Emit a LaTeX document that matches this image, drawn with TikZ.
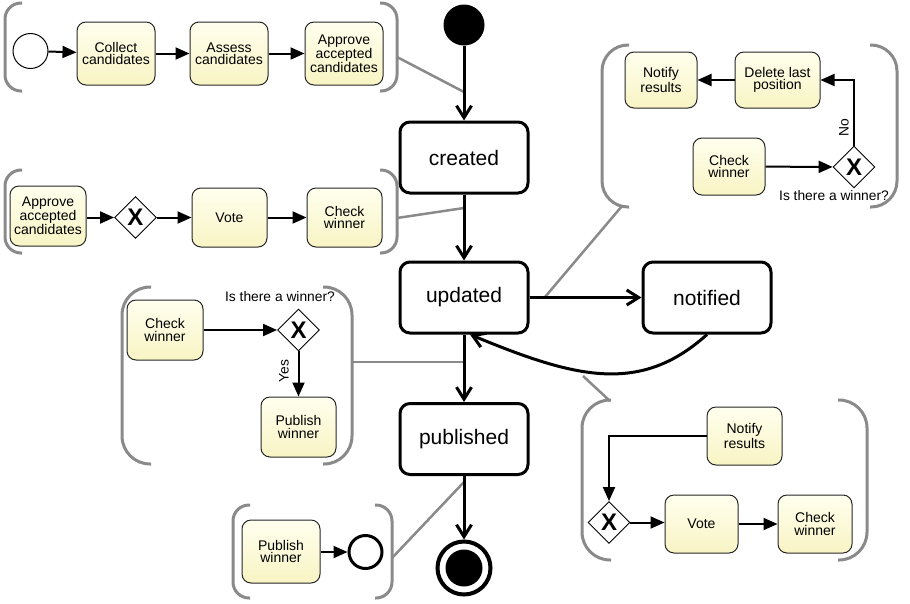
\documentclass[tikz,border=0pt]{standalone}
\usepackage{fontspec}
\setmainfont{Liberation Sans}
\usetikzlibrary{arrows.meta,shapes.geometric,calc}

\definecolor{annogray}{HTML}{8A8A8A}
\definecolor{tasktop}{HTML}{FFFFEE}
\definecolor{taskbot}{HTML}{F8F4C4}

\tikzset{
  state/.style={draw, line width=3pt, rounded corners=10pt, minimum width=128pt,
    minimum height=71pt, fill=white, inner sep=0pt, font=\fontsize{21}{24}\selectfont},
  task/.style={draw=black!85, line width=1pt, rounded corners=9pt, top color=tasktop,
    bottom color=taskbot, minimum width=76pt, minimum height=60pt, inner sep=0pt,
    align=center, font=\fontsize{14}{12.5}\selectfont},
  xgate/.style={diamond, draw, line width=0.9pt, fill=white, minimum size=42pt,
    inner sep=0pt, font=\fontsize{24}{24}\selectfont\bfseries},
  bevent/.style={circle, draw, fill=white, minimum size=35pt, inner sep=0pt},
  small/.style={font=\fontsize{13.8}{13.8}\selectfont, inner sep=0pt},
  trans/.style={line width=3pt, -{Straight Barb[length=12pt,width=15pt]}},
  flow/.style={line width=2pt, -{Triangle[length=14pt,width=12pt]}},
  assoc/.style={draw=annogray, line width=2.5pt},
  brk/.style={draw=annogray, line width=3pt},
}

% pair of rounded brackets: left x, top y, right x, bottom y, corner radius
\newcommand{\bracketpair}[5]{%
  \draw[brk, rounded corners=#5pt] ({#1+#5+1},#2) -- (#1,#2) -- (#1,#4) -- ({#1+#5+1},#4);
  \draw[brk, rounded corners=#5pt] ({#3-#5-1},#2) -- (#3,#2) -- (#3,#4) -- ({#3-#5-1},#4);
}

\begin{document}
\begin{tikzpicture}[x=1pt, y=-1pt]
\useasboundingbox (0,0) rectangle (910,603);

% annotation brackets
\bracketpair{5}{3}{397}{91}{16}
\bracketpair{5}{170}{397}{253}{16}
\bracketpair{602}{45}{897}{207}{26}
\bracketpair{122}{287}{352}{464}{28}
\bracketpair{582}{400}{867}{560}{28}
\bracketpair{233}{505}{392}{598}{16}

% association anchors
\coordinate (a1s) at (397,57);   \coordinate (a1e) at (464,92);
\coordinate (a2s) at (397,218);  \coordinate (a2e) at (464,208);
\coordinate (a3s) at (622,206);  \coordinate (a3e) at (545,297);
\coordinate (a4s) at (352,362);  \coordinate (a4e) at (464,362);
\coordinate (a5s) at (583,376);  \coordinate (a5e) at (610,401);
\coordinate (a6s) at (392,558);  \coordinate (a6e) at (464,482);
\foreach \n in {1,...,6} \draw[assoc] (a\n s) -- (a\n e);

% life cycle states
\node[circle, fill=black, minimum size=41pt, inner sep=0pt] (init) at (464,25) {};
\node[state] (created) at (464,157.5) {created};
\node[state] (updated) at (464,297.5) {updated};
\node[state] (notified) at (707,297.5) {notified};
\node[state] (published) at (464,439) {published};
\node[circle, draw, line width=4pt, minimum size=53pt, inner sep=0pt] (final) at (464,568) {};
\node[circle, fill=black, minimum size=37pt, inner sep=0pt] (finaldot) at (final) {};

\draw[trans] (init) -- (created);
\draw[trans] (created) -- (updated);
\draw[trans] (updated) -- (notified);
\draw[trans] (updated) -- (published);
\draw[trans] (published) -- (final);
\draw[trans] (notified.south) .. controls (640,395) and (575,378) .. ([xshift=6pt]updated.south);

% process: creation
\node[bevent, line width=1pt] (g1start) at (30.5,51) {};
\node[task, minimum width=78pt, minimum height=63pt] (collect) at (116,53.5) {Collect\\candidates};
\node[task, minimum width=78pt, minimum height=63pt] (assess) at (229,53.5) {Assess\\candidates};
\node[task, minimum width=78pt, minimum height=63pt] (approve1) at (344,53.5) {Approve\\accepted\\candidates};
\draw[flow] (g1start) -- (collect);
\draw[flow] (collect) -- (assess);
\draw[flow] (assess) -- (approve1);

% process: update
\node[task] (approve2) at (48,216) {Approve\\accepted\\candidates};
\node[xgate] (gate2) at (135.5,217.5) {X};
\node[task, minimum width=75pt, minimum height=59pt] (vote2) at (229.5,217.5) {Vote};
\node[task, minimum width=75pt, minimum height=59pt] (check2) at (344.5,217.5) {Check\\winner};
\draw[flow] (approve2.east |- gate2) -- (gate2);
\draw[flow] (gate2) -- (vote2);
\draw[flow] (vote2) -- (check2);

% process: notification
\node[task, minimum width=72pt, minimum height=56pt] (notify3) at (661,80) {Notify\\results};
\node[task, minimum width=85pt, minimum height=56pt] (delete3) at (777.5,80) {Delete last\\position};
\node[task, minimum width=72pt, minimum height=57pt] (check3) at (729,166.5) {Check\\winner};
\node[xgate] (gate3) at (854,167) {X};
\node[small] (q3) at (834,196) {Is there a winner?};
\node[small, rotate=90] (no3) at (844,127.5) {No};
\draw[flow] (check3) -- (gate3);
\draw[flow] (gate3.north) |- (delete3.east);
\draw[flow] (delete3) -- (notify3);

% process: publication
\node[task] (check4) at (165,330) {Check\\winner};
\node[xgate] (gate4) at (298.5,330) {X};
\node[small] (q4) at (280,297) {Is there a winner?};
\node[task, minimum width=75pt] (publish4) at (298.5,427) {Publish\\winner};
\node[small, rotate=90] (yes4) at (284,371) {Yes};
\draw[flow] (check4) -- (gate4);
\draw[flow] (gate4) -- (publish4);

% process: re-vote after notification
\node[task, minimum width=75pt, minimum height=58pt] (notify5) at (744.5,436) {Notify\\results};
\node[xgate] (gate5) at (609,522.5) {X};
\node[task, minimum width=73pt, minimum height=58pt] (vote5) at (701.5,524) {Vote};
\node[task, minimum width=74pt, minimum height=58pt] (check5) at (815,524) {Check\\winner};
\draw[flow] (notify5.west) -| (gate5.north);
\draw[flow] (gate5) -- (vote5.west |- gate5);
\draw[flow] (vote5) -- (check5);

% process: closing
\node[task, minimum width=78pt, minimum height=63pt] (publish6) at (281,551.5) {Publish\\winner};
\node[bevent, line width=3pt, minimum size=33pt] (end6) at (365.5,552) {};
\draw[flow] (publish6.east |- end6) -- (end6);
\end{tikzpicture}
\end{document}
